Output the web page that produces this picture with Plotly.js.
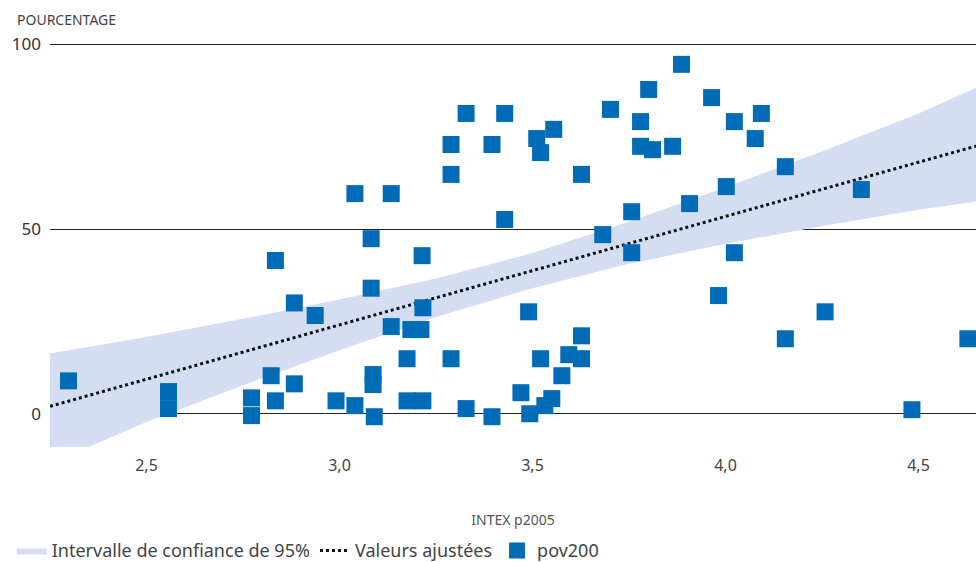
<!DOCTYPE html>
<html>
<head>
<meta charset="utf-8">
<script src="https://cdn.plot.ly/plotly-3.0.1.min.js"></script>
<style>body{margin:0}#chart{width:976px;height:562px}</style>
</head>
<body>
<div id="chart"></div>
<script>
var intex = [2.298, 2.557, 2.557, 2.772, 2.772, 2.834, 2.823, 2.834, 2.883, 2.883, 2.937, 2.991,
    3.040, 3.040, 3.082, 3.082, 3.087, 3.087, 3.090, 3.134, 3.134, 3.175, 3.175, 3.185, 3.211,
    3.216, 3.214, 3.216, 3.289, 3.289, 3.289, 3.328, 3.328, 3.395, 3.395, 3.428, 3.428, 3.470,
    3.490, 3.493, 3.511, 3.521, 3.521, 3.532, 3.550, 3.555, 3.576, 3.594, 3.627, 3.627, 3.627,
    3.682, 3.702, 3.757, 3.757, 3.780, 3.780, 3.801, 3.811, 3.863, 3.886, 3.907, 3.964, 3.982,
    4.002, 4.023, 4.023, 4.077, 4.093, 4.155, 4.155, 4.258, 4.352, 4.483, 4.628]
var pov200 = [8.9, 6, 1.4, 4.3, -0.5, 41.5, 10.3, 3.5, 30, 8.1, 26.6, 3.5,
    59.6, 2.2, 47.4, 34, 10.6, 7.9, -0.8, 59.6, 23.6, 14.9, 3.5, 22.8, 22.8,
    28.7, 42.8, 3.5, 72.9, 64.8, 14.9, 81.3, 1.4, 72.9, -0.8, 81.3, 52.6, 5.7,
    27.6, 0, 74.5, 70.7, 14.9, 2.2, 4.1, 77, 10.3, 16, 21.1, 14.9, 64.8,
    48.5, 82.4, 54.7, 43.6, 79.1, 72.4, 87.8, 71.5, 72.4, 94.6, 56.9, 85.6, 32,
    61.5, 79.1, 43.6, 74.5, 81.3, 66.9, 20.3, 27.6, 60.7, 1.1, 20.3]

var fitX = [2.25, 2.5, 2.75, 3.0, 3.25, 3.5, 3.75, 4.0, 4.25, 4.5, 4.65]
var fitY = [2, 9.3, 16.7, 24.05, 31.4, 38.75, 46.1, 53.45, 60.8, 68.15, 72.5]
var ciUpper = [16.3, 20.8, 25.7, 30.9, 36.6, 43.5, 52.0, 61.3, 71.0, 81.3, 88.3]
var ciLower = [-13.5, -2.2, 7.7, 17.2, 26.2, 34.0, 40.6, 46.0, 50.8, 55.2, 57.5]

var data = [
    { x: fitX, y: ciLower, mode: "lines", line: { width: 0 }, showlegend: false, hoverinfo: "skip" },
    { name: "Intervalle de confiance de 95%", x: fitX, y: ciUpper, mode: "lines", fill: "tonexty",
      fillcolor: "#d4ddf2", line: { width: 0, color: "#d4ddf2" } },
    { name: "Valeurs ajustées", x: fitX, y: fitY, mode: "lines",
      line: { color: "#111111", width: 3, dash: "dot" } },
    { name: "pov200", x: intex, y: pov200, mode: "markers", type: "scatter",
      marker: { symbol: "square", size: 17, color: "#006bb6" } }
]

var layout = {
    width: 976,
    height: 562,
    margin: { l: 50, r: 0, t: 37, b: 115 },
    font: { family: "Noto Sans, sans-serif", size: 15, color: "#444444" },
    separators: ", ",
    paper_bgcolor: "#ffffff",
    plot_bgcolor: "#ffffff",
    xaxis: {
        range: [2.25, 4.649],
        tickvals: [2.5, 3.0, 3.5, 4.0, 4.5],
        tickformat: ".1f",
        showgrid: false,
        zeroline: false,
        ticks: "",
        automargin: false,
        ticklabelstandoff: 7,
        tickfont: { size: 16, color: "#444444" },
        title: { text: "INTEX p2005", font: { size: 14, color: "#555555" }, standoff: 40 }
    },
    yaxis: {
        range: [-9, 102],
        tickvals: [0, 50, 100],
        gridcolor: "#222222",
        gridwidth: 1.2,
        zeroline: false,
        ticks: "",
        automargin: false,
        ticklabelstandoff: 8,
        tickfont: { size: 17, color: "#333333" }
    },
    legend: {
        orientation: "h",
        x: 0.012, y: 0.02, xref: "container", yref: "container",
        xanchor: "left", yanchor: "middle",
        font: { size: 18, color: "#444444" },
        traceorder: "normal"
    },
    annotations: [{
        text: "POURCENTAGE", xref: "paper", yref: "paper", x: -0.038, y: 1.015,
        xanchor: "left", yanchor: "bottom", showarrow: false,
        font: { size: 14, color: "#444444" }
    }]
}

Plotly.newPlot("chart", data, layout, { displayModeBar: false })
</script>
</body>
</html>
